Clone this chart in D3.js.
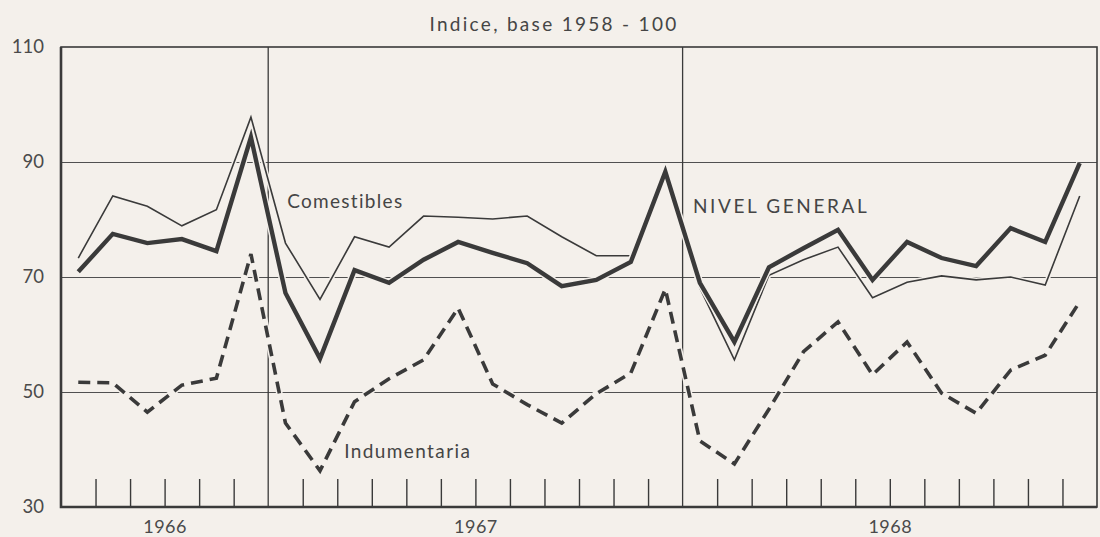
<!DOCTYPE html>
<html>
<head>
<meta charset="utf-8">
<script src="https://cdn.jsdelivr.net/npm/d3@7"></script>
<style>
  html, body { margin: 0; padding: 0; background: #f4f0eb; }
  svg { display: block; }
  text { font-family: Lato, "Open Sans", sans-serif; fill: #454545; }
</style>
</head>
<body>
<svg id="chart"></svg>
<script>
// months from Jul 1966 to Dec 1968, one value per month
const years = ["1966", "1967", "1968"]
const monthsPerYear = [6, 12, 12]
const yTicks = [30, 50, 70, 90, 110]

const nivelGeneral = [
  70.9, 77.5, 75.9, 76.6, 74.5, 94.3,
  67.2, 55.8, 71.2, 69.0, 73.0, 76.1, 74.2, 72.4, 68.4, 69.5, 72.6, 88.3,
  69.0, 58.7, 71.7, 75.0, 78.2, 69.5, 76.1, 73.3, 71.9, 78.5, 76.1, 89.8
]
const comestibles = [
  73.3, 84.1, 82.3, 78.9, 81.7, 97.8,
  75.9, 66.1, 77.0, 75.2, 80.6, 80.4, 80.1, 80.6, 77.0, 73.7, 73.7, 88.7,
  68.1, 55.6, 70.3, 73.0, 75.2, 66.4, 69.1, 70.2, 69.5, 70.0, 68.6, 84.1
]
const indumentaria = [
  51.7, 51.6, 46.5, 51.2, 52.4, 74.0,
  44.6, 36.3, 48.3, 52.3, 55.6, 64.6, 51.4, 47.8, 44.6, 49.7, 53.3, 67.9,
  41.5, 37.5, 47.0, 57.0, 62.2, 53.0, 58.7, 49.8, 46.3, 53.8, 56.4, 65.7
]

const W = 1100, H = 537
const margin = {top: 47, right: 3, bottom: 30, left: 61}
const width = W - margin.left - margin.right,
      height = H - margin.top - margin.bottom

const ink = "#3a3a3a", paper = "#f4f0eb"

const svg = d3.select("#chart")
  .attr("width", W)
  .attr("height", H)

const g = svg.append("g")
  .attr("transform", "translate(" + margin.left + "," + margin.top + ")")

const nMonths = d3.sum(monthsPerYear)
const x = d3.scaleLinear().domain([0, nMonths]).range([0, width])
const y = d3.scaleLinear().domain([30, 110]).range([height, 0])

// year boundaries (month index)
const yearBounds = monthsPerYear.reduce((acc, m) => { acc.push(acc[acc.length - 1] + m); return acc }, [0])
const yearMids = years.map((yr, i) => (yearBounds[i] + yearBounds[i + 1]) / 2)

// horizontal grid
g.append("g")
  .attr("class", "grid")
  .call(d3.axisLeft(y).tickValues([50, 70, 90]).tickSize(-width).tickFormat(""))
  .call(s => s.select(".domain").remove())
  .selectAll("line")
  .attr("stroke", "#505050")
  .attr("stroke-width", 1)

// year dividers
g.append("g")
  .selectAll("line")
  .data(yearBounds.slice(1, -1))
  .enter().append("line")
  .attr("x1", d => x(d)).attr("x2", d => x(d))
  .attr("y1", 0).attr("y2", height)
  .attr("stroke", ink)
  .attr("stroke-width", 1.3)

// monthly ticks rising from the bottom axis
const monthTicks = d3.range(1, nMonths).filter(m => !yearBounds.includes(m))
g.append("g")
  .attr("transform", "translate(0," + height + ")")
  .call(d3.axisBottom(x).tickValues(monthTicks).tickSize(-28).tickFormat(""))
  .call(s => s.select(".domain").remove())
  .selectAll("line")
  .attr("stroke", ink)
  .attr("stroke-width", 1.4)

// year labels
g.append("g")
  .attr("transform", "translate(0," + height + ")")
  .call(d3.axisBottom(x).tickValues(yearMids).tickSize(0).tickPadding(13)
    .tickFormat((d, i) => years[i]))
  .call(s => s.select(".domain").remove())
  .selectAll("text")
  .attr("font-size", "18px")
  .attr("font-family", "Lato, sans-serif")
  .attr("letter-spacing", "0.5px")
  .style("fill", "#4a4a4a")

// y labels
g.append("g")
  .call(d3.axisLeft(y).tickValues(yTicks).tickSize(0).tickPadding(17))
  .call(s => s.select(".domain").remove())
  .selectAll("text")
  .attr("font-size", "18.5px")
  .attr("font-family", "Lato, sans-serif")
  .style("fill", "#4a4a4a")

// frame
g.append("rect")
  .attr("x", 0).attr("y", 0)
  .attr("width", width).attr("height", height)
  .attr("fill", "none")
  .attr("stroke", ink)
  .attr("stroke-width", 1.6)

g.append("path")
  .attr("d", "M0,0V" + height + "H" + width)
  .attr("fill", "none")
  .attr("stroke", ink)
  .attr("stroke-width", 2.6)

// series
const line = d3.line()
  .x((d, i) => x(i + 0.5))
  .y(d => y(d))

const series = [
  {data: indumentaria, w: 3.6, dash: "12,7"},
  {data: comestibles, w: 1.6, dash: null},
  {data: nivelGeneral, w: 4.4, dash: null}
]

series.forEach(s => {
  g.append("path")
    .datum(s.data)
    .attr("d", line)
    .attr("fill", "none")
    .attr("stroke", paper)
    .attr("stroke-width", s.w + 3)
    .attr("stroke-linejoin", "round")
  g.append("path")
    .datum(s.data)
    .attr("d", line)
    .attr("fill", "none")
    .attr("stroke", ink)
    .attr("stroke-width", s.w)
    .attr("stroke-linejoin", "miter")
    .attr("stroke-dasharray", s.dash)
})

// labels on the lines
const labels = [
  {text: "Comestibles", m: 6.55, v: 82.0, ls: 1.3},
  {text: "NIVEL GENERAL", m: 18.3, v: 81.2, ls: 2.6},
  {text: "Indumentaria", m: 8.2, v: 38.5, ls: 1.4}
]
g.append("g")
  .selectAll("text")
  .data(labels)
  .enter().append("text")
  .attr("x", d => x(d.m))
  .attr("y", d => y(d.v))
  .attr("font-size", "19px")
  .attr("letter-spacing", d => d.ls + "px")
  .text(d => d.text)

// title
svg.append("text")
  .attr("x", 554)
  .attr("y", 31)
  .attr("text-anchor", "middle")
  .attr("font-size", "19px")
  .attr("letter-spacing", "2.3px")
  .text("Indice, base 1958 - 100")
</script>
</body>
</html>
